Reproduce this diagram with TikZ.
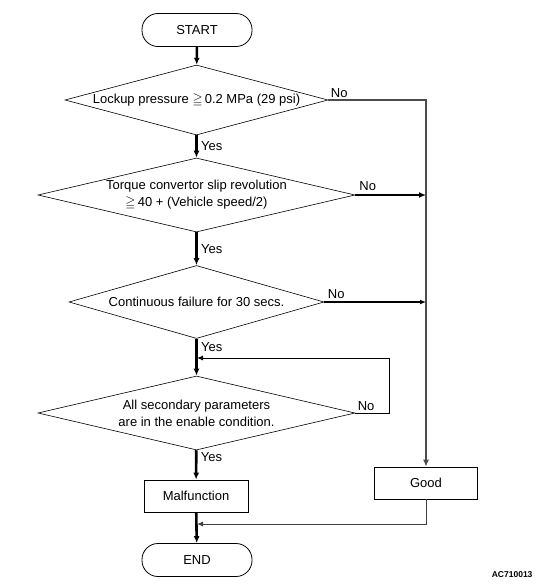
\documentclass[tikz,border=0pt]{standalone}
\usepackage{amssymb}
\usepackage{fontspec}
\setmainfont{Liberation Sans}
\usetikzlibrary{shapes.geometric,arrows.meta,calc}

\tikzset{
    terminal/.style={draw,line width=0.8pt,rounded corners=16pt,minimum width=110pt,minimum height=33pt,inner sep=0pt},
    decision/.style={draw,line width=0.6pt,diamond,inner sep=0pt},
    process/.style={draw,line width=0.8pt,rectangle,minimum width=104pt,minimum height=32pt,inner sep=0pt},
    flow/.style={line width=2.6pt,-{Latex[length=7pt,width=6pt]}},
    side/.style={line width=1.2pt,draw=black!70,-{Latex[length=7pt,width=6pt]}},
    thin/.style={line width=1pt,-{Latex[length=6pt,width=5pt]}}
}

\begin{document}
\begin{tikzpicture}[x=1pt,y=-1pt,font=\fontsize{13}{17}\selectfont]
        \useasboundingbox (0,0) rectangle (550,586);

        \node[terminal] (start) at (197,30) {START};
        \node[decision,minimum width=263pt,minimum height=70pt,label={center:Lockup pressure $\geqq$\,0.2 MPa (29 psi)}] (d1) at (196.5,100) {};
        \node[decision,minimum width=317pt,minimum height=74pt,label={[align=center]center:Torque convertor slip revolution\\$\geqq$\,40 + (Vehicle speed/2)}] (d2) at (196.5,195) {};
        \node[decision,minimum width=255pt,minimum height=73pt,label={center:Continuous failure for 30 secs.}] (d3) at (196.5,302) {};
        \node[decision,minimum width=317pt,minimum height=74pt,label={[align=center]center:All secondary parameters\\are in the enable condition.}] (d4) at (196.5,413) {};
        \node[process] (malf) at (196,496) {Malfunction};
        \node[process,minimum width=103pt] (good) at (426,483) {Good};
        \node[terminal] (end) at (197,560) {END};
        \node[font=\fontsize{8.5}{10}\selectfont\bfseries,anchor=east] (code) at (536,575) {AC710013};

        \coordinate (loop) at (197,358);
        \coordinate (merge) at (197,524);

        % main flow
        \draw[flow] (start) -- (d1);
        \draw[flow] (d1) -- node[right]{Yes} (d2);
        \draw[flow] (d2) -- node[right]{Yes} (d3);
        \draw[flow] (d3) -- node[right,pos=0.22]{Yes} (d4);
        \draw[flow] (d4) -- node[right,pos=0.25]{Yes} (malf);
        \draw[flow] (malf) -- (end);

        % No branches
        \draw[side] (d1.east) node[above right,inner sep=2pt]{No} -| (good.north);
        \draw[flow,line width=2.2pt] (d2.east) node[above right,inner sep=3pt]{No} -- (d2.east -| good.north);
        \draw[thin,line width=1.2pt] (d3.east) node[above right,inner sep=3pt]{No} -- (d3.east -| good.north);
        \draw[thin] (d4.east) node[above right,inner sep=2pt]{No} -- ++(34,0) |- (loop);
        \draw[thin,draw=black!75] (good.south) |- (merge);
    \end{tikzpicture}
\end{document}
